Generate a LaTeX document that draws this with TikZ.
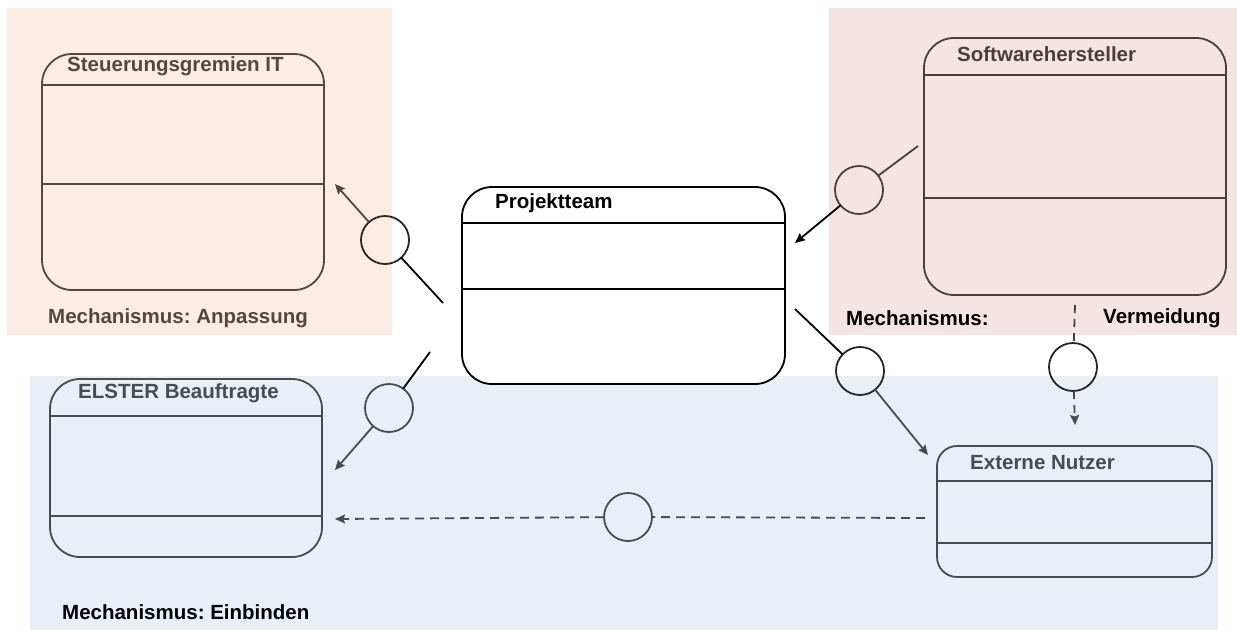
\documentclass[tikz,border=0pt]{standalone}
\usepackage{fontspec}
\setmainfont{Liberation Sans}
\usetikzlibrary{arrows.meta}
\frenchspacing
\definecolor{peachbg}{RGB}{251,237,228}
\definecolor{rosebg}{RGB}{244,229,228}
\definecolor{bluebg}{RGB}{232,239,247}
\definecolor{brownln}{RGB}{84,72,63}
\definecolor{roseln}{RGB}{74,63,63}
\definecolor{slateln}{RGB}{71,75,82}
\tikzset{
  box/.style={draw, rounded corners=30pt, line width=1.8pt, minimum width=#1, outer sep=0pt, inner sep=0pt},
  circ/.style={draw, circle, line width=1.8pt, minimum size=48pt, inner sep=0pt, outer sep=0pt},
  title/.style={font=\bfseries\fontsize{20.5}{24}\selectfont, anchor=west, inner sep=0pt},
  mech/.style={font=\bfseries\fontsize{20.5}{24}\selectfont, anchor=west, inner sep=0pt},
  conn/.style={line width=1.8pt},
  tip/.style={-{Stealth[length=10pt,width=9pt,inset=1.5pt]}},
}
\begin{document}
\begin{tikzpicture}[x=1pt,y=-1pt]
\useasboundingbox (0,0) rectangle (1237,630);
% mechanism areas
\fill[peachbg] (7,8) rectangle (392,335);
\fill[rosebg] (829,8) rectangle (1237,335);
\fill[bluebg] (30,376) rectangle (1218,630);

% Steuerungsgremien IT
\node[box=282pt, minimum height=236pt, draw=brownln] (steu) at (183,172) {};
\draw[brownln, conn] (steu.west |- 0,85) -- (steu.east |- 0,85);
\draw[brownln, conn] (steu.west |- 0,184) -- (steu.east |- 0,184);
\node[title, text=brownln] (steuT) at (67,66) {Steuerungsgremien IT};
\node[mech, text=brownln] (mechA) at (48,318) {Mechanismus: Anpassung};

% Softwarehersteller
\node[box=302pt, minimum height=257pt, draw=roseln] (soft) at (1075,166.5) {};
\draw[roseln, conn] (soft.west |- 0,75) -- (soft.east |- 0,75);
\draw[roseln, conn] (soft.west |- 0,198) -- (soft.east |- 0,198);
\node[title, text=roseln] (softT) at (957,54) {Softwarehersteller};
\node[mech] (mechV1) at (846,318) {Mechanismus:};
\node[mech] (mechV2) at (1103,318) {Vermeidung};

% Projektteam
\node[box=323pt, minimum height=197pt, draw=black, fill=white] (proj) at (623.5,285.5) {};
\draw[black, conn] (proj.west |- 0,223) -- (proj.east |- 0,223);
\draw[black, conn] (proj.west |- 0,289) -- (proj.east |- 0,289);
\node[title] (projT) at (495,203) {Projektteam};

% ELSTER Beauftragte
\node[box=272pt, minimum height=178pt, draw=slateln] (elst) at (186,468) {};
\draw[slateln, conn] (elst.west |- 0,416) -- (elst.east |- 0,416);
\draw[slateln, conn] (elst.west |- 0,516) -- (elst.east |- 0,516);
\node[title, text=slateln] (elstT) at (78,393) {ELSTER Beauftragte};
\node[mech] (mechE) at (62,612) {Mechanismus: Einbinden};

% Externe Nutzer
\node[box=275pt, minimum height=131pt, draw=slateln, rounded corners=20pt] (extn) at (1074.5,511.5) {};
\draw[slateln, conn] (extn.west |- 0,481) -- (extn.east |- 0,481);
\draw[slateln, conn] (extn.west |- 0,543) -- (extn.east |- 0,543);
\node[title, text=slateln] (extnT) at (970,463) {Externe Nutzer};

% connector circles
\node[circ, draw=black!85] (c1) at (385,240) {};
\node[circ, draw=roseln] (c2) at (859,190) {};
\node[circ, draw=slateln] (c3) at (389,408) {};
\node[circ, draw=black!85] (c4) at (860,371) {};
\node[circ, draw=black!85] (c5) at (1073,367) {};
\node[circ, draw=slateln] (c6) at (628,517) {};

% free ends of the connectors
\coordinate (p1) at (443,303);
\coordinate (a1) at (335,184);
\coordinate (p2) at (918,146);
\coordinate (a2) at (795,243);
\coordinate (p3) at (430,352);
\coordinate (a3) at (335,470);
\coordinate (p4) at (795,309);
\coordinate (a4) at (928,455);
\coordinate (p5) at (1075,305);
\coordinate (a5) at (1075,425);
\coordinate (p6) at (925,518);
\coordinate (a6) at (335,519);

% Anpassung
\draw[conn, black] (p1) -- (c1);
\draw[conn, brownln, tip] (c1) -- (a1);
% Vermeidung towards Projektteam
\draw[conn, roseln] (p2) -- (c2);
\draw[conn, black, tip] (c2) -- (a2);
% Einbinden towards ELSTER Beauftragte
\draw[conn, black] (p3) -- (c3);
\draw[conn, slateln, tip] (c3) -- (a3);
% Projektteam to Externe Nutzer
\draw[conn, black] (p4) -- (c4);
\draw[conn, slateln, tip] (c4) -- (a4);
% Softwarehersteller to Externe Nutzer
\draw[conn, roseln, dash pattern=on 8pt off 6pt] (p5) -- (c5);
\draw[conn, slateln, dash pattern=on 8pt off 6pt, tip] (c5) -- (a5);
% Externe Nutzer to ELSTER Beauftragte
\draw[conn, slateln, dash pattern=on 9pt off 6pt] (p6) -- (c6);
\draw[conn, slateln, dash pattern=on 9pt off 6pt, tip] (c6) -- (a6);
\end{tikzpicture}
\end{document}
